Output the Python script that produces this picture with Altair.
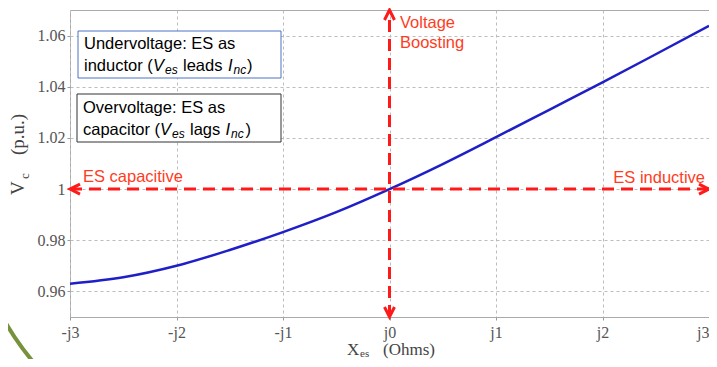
import altair as alt
import pandas as pd

# ---- data ----
x_vals = [-3, -2.5, -2, -1.5, -1, -0.5, 0, 0.5, 1, 1.5, 2, 2.5, 3]
v_vals = [0.963, 0.9655, 0.970, 0.9762, 0.9832, 0.991, 1.000, 1.0098, 1.0203, 1.031, 1.0417, 1.0527, 1.0638]
x_ticks = [-3, -2, -1, 0, 1, 2, 3]
x_tick_labels = ["-j3", "-j2", "-j1", "j0", "j1", "j2", "j3"]
y_ticks = [0.96, 0.98, 1.00, 1.02, 1.04, 1.06]
x_domain = [-3, 3]
y_domain = [0.95, 1.07]

RED = "#ff1a1a"
TXT_RED = "#ff3c1e"
BLUE = "#1f1fc8"
SERIF = "Liberation Serif"
SANS = "Liberation Sans"

curve = pd.DataFrame({"X": x_vals, "V": v_vals})
one = pd.DataFrame({"a": [0]})

label_expr = ""
for v, l in zip(x_ticks, x_tick_labels):
    label_expr += f"datum.value == {v} ? '{l}' : "
label_expr += "''"

xs = alt.Scale(domain=x_domain, nice=False, zero=False)
ys = alt.Scale(domain=y_domain, nice=False, zero=False)

base = alt.Chart(curve).mark_line(color=BLUE, strokeWidth=2.5, interpolate="monotone").encode(
    x=alt.X("X:Q", scale=xs, axis=alt.Axis(
        values=x_ticks, labelExpr=label_expr, title=None, grid=True, labelPadding=4,
        labelAlign=alt.condition(f"datum.value == {x_domain[1]}", alt.value("right"), alt.value("center")))),
    y=alt.Y("V:Q", scale=ys, axis=alt.Axis(values=y_ticks, format="~g", title=None,
                                          grid=True, labelPadding=2)),
)

hline = alt.Chart(pd.DataFrame({"x1": [x_domain[0]], "x2": [x_domain[1]], "y": [1.0]})).mark_rule(
    color=RED, strokeWidth=3, strokeDash=[12, 7]).encode(
    x=alt.X("x1:Q", scale=xs), x2="x2:Q", y=alt.Y("y:Q", scale=ys))
vline = alt.Chart(pd.DataFrame({"x": [0], "y1": [y_domain[0]], "y2": [y_domain[1]]})).mark_rule(
    color=RED, strokeWidth=3, strokeDash=[12, 7]).encode(
    x=alt.X("x:Q", scale=xs), y=alt.Y("y1:Q", scale=ys), y2="y2:Q")


def arrow(px, py, path):
    return alt.Chart(pd.DataFrame({"x": [px], "y": [py]})).mark_point(
        shape=path, size=100, filled=False, stroke=RED, strokeWidth=3, opacity=1).encode(
        x=alt.X("x:Q", scale=xs), y=alt.Y("y:Q", scale=ys))


arrows = [
    arrow(x_domain[0], 1.0, "M2,-1L0,0L2,1"),
    arrow(x_domain[1], 1.0, "M-2,-1L0,0L-2,1"),
    arrow(0, y_domain[1], "M-1,2L0,0L1,2"),
    arrow(0, y_domain[0], "M-1,-2L0,0L1,-2"),
]


def box(x1, y1, x2, y2, stroke):
    return alt.Chart(one).mark_rect(fill="white", stroke=stroke, strokeWidth=1).encode(
        x=alt.value(x1), x2=alt.value(x2), y=alt.value(y1), y2=alt.value(y2))


def txt(s, x, y, size=16.5, color="black", italic=False, font=SANS, align="left", angle=0):
    return alt.Chart(one).mark_text(text=s, align=align, baseline="middle", fontSize=size,
                                    color=color, font=font,
                                    fontStyle="italic" if italic else "normal",
                                    angle=angle).encode(x=alt.value(x), y=alt.value(y))


boxes = [box(8, 21, 211, 68, "#4a72c4"), box(7, 84, 211, 132, "#333333")]

AX = "#444444"
texts = [
    txt("Undervoltage: ES as", 14, 34),
    txt("inductor (", 14, 56),
    txt("V", 83, 56, italic=True),
    txt("es", 95, 60, size=12, italic=True),
    txt("leads", 113, 56),
    txt("I", 158, 56, italic=True),
    txt("nc", 163.5, 60, size=12, italic=True),
    txt(")", 177, 56),
    txt("Overvoltage: ES as", 13, 98),
    txt("capacitor (", 13, 120),
    txt("V", 90, 120, italic=True),
    txt("es", 102, 124, size=12, italic=True),
    txt("lags", 120, 120),
    txt("I", 155.5, 120, italic=True),
    txt("nc", 161, 124, size=12, italic=True),
    txt(")", 175.5, 120),
    txt("ES capacitive", 13, 167, color=TXT_RED),
    txt("ES inductive", 635, 168, color=TXT_RED, align="right"),
    txt("Voltage", 330, 13, color=TXT_RED),
    txt("Boosting", 330, 33, color=TXT_RED),
    # axis titles
    txt("X", 277, 339.5, size=17, color=AX, font=SERIF),
    txt("es", 290, 344, size=11, color=AX, font=SERIF),
    txt("(Ohms)", 313, 339.5, size=17, color=AX, font=SERIF),
    txt("V", -52.5, 185, size=19, color=AX, font=SERIF, angle=270),
    txt("c", -45, 169, size=13, color=AX, font=SERIF, angle=270),
    txt("(p.u.)", -52.5, 145, size=19, color=AX, font=SERIF, angle=270),
]

arc = alt.Chart(one).mark_arc(radius=285, radius2=281, theta=3.8, theta2=4.45,
                              color="#76923c").encode(x=alt.value(180), y=alt.value(170))

chart = alt.layer(arc, base, hline, vline, *arrows, *boxes, *texts).properties(
    width=639, height=307,
    autosize=alt.AutoSizeParams(type="none"),
    padding={"left": 62, "top": 2, "right": 0, "bottom": 42},
).configure_view(
    stroke="#aaaaaa", strokeWidth=1
).configure_axis(
    domain=False, gridColor="#bdbdbd", gridDash=[3, 3], gridWidth=1,
    tickColor="#999999", tickSize=3, labelFont=SERIF, labelFontSize=16,
    labelColor="#555555",
)

chart.save("out.html", embed_options={"renderer": "svg", "actions": False})
